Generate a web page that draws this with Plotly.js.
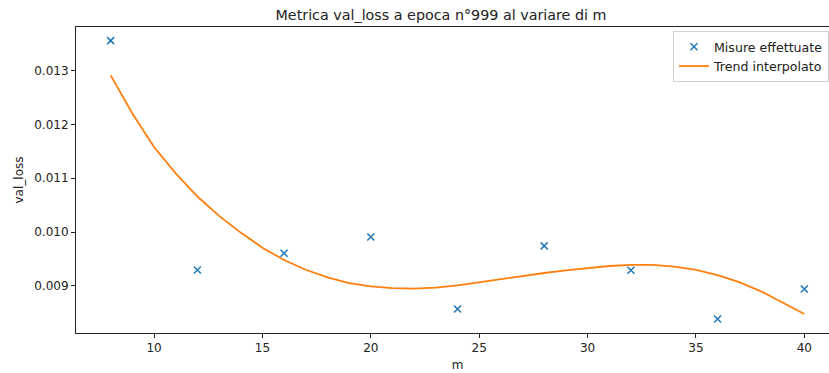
<!DOCTYPE html>
<html>
<head>
<meta charset="utf-8">
<script src="https://cdn.plot.ly/plotly-3.0.1.min.js"></script>
<style>
html,body{margin:0;padding:0;overflow:hidden;background:#fff;}
#chart{width:839px;height:373px;}
</style>
</head>
<body>
<div id="chart"></div>
<script>
// Measured values
const measureM = [8, 12, 16, 20, 24, 28, 32, 36, 40];
const measureLoss = [0.013554, 0.009297, 0.009605, 0.009908, 0.008572, 0.009743, 0.009290, 0.008387, 0.008944];

// Interpolated trend
const trendM = [8, 9, 10, 11, 12, 13, 14, 15, 16, 17, 18, 19, 20, 21, 22, 23, 24,
                25, 26, 27, 28, 29, 30, 31, 32, 33, 34, 35, 36, 37, 38, 39, 40];
const trendLoss = [0.012909, 0.01220, 0.01158, 0.01109, 0.01066, 0.01030, 0.00999, 0.00971,
                   0.00948, 0.00930, 0.00916, 0.00905, 0.00899, 0.00896, 0.00895, 0.00897,
                   0.00901, 0.00907, 0.00913, 0.00919, 0.00924, 0.00929, 0.00933, 0.00937,
                   0.00939, 0.00939, 0.00936, 0.00930, 0.00920, 0.00907, 0.00890, 0.00869, 0.00848];

const xTicks = [10, 15, 20, 25, 30, 35, 40];
const yTicks = [0.009, 0.010, 0.011, 0.012, 0.013];

const font = {family: 'DejaVu Sans', size: 12, color: '#222'};

const traces = [
  {
    x: measureM, y: measureLoss, mode: 'markers', type: 'scatter',
    name: 'Misure effettuate',
    marker: {symbol: 'x-thin-open', size: 7, color: '#1f77b4', line: {color: '#1f77b4', width: 1.5}}
  },
  {
    x: trendM, y: trendLoss, mode: 'lines', type: 'scatter',
    name: 'Trend interpolato',
    line: {color: '#ff7f0e', width: 1.8}
  }
];

const axisCommon = {
  showline: true, linecolor: '#222', linewidth: 1, mirror: true,
  showgrid: false, zeroline: false,
  ticks: 'outside', ticklen: 4, tickwidth: 1, tickcolor: '#222',
  tickfont: font
};

const layout = {
  width: 839, height: 373,
  margin: {l: 76, r: 0, t: 27, b: 40},
  paper_bgcolor: '#fff', plot_bgcolor: '#fff',
  font: font,
  title: {
    text: 'Metrica val_loss a epoca n°999 al variare di m',
    font: {family: 'DejaVu Sans', size: 14.3, color: '#222'},
    xref: 'container', x: 441/839, xanchor: 'center',
    yref: 'container', y: 1 - 15/373, yanchor: 'middle'
  },
  xaxis: Object.assign({}, axisCommon, {
    range: [6.4, 41.6], tickvals: xTicks, ticktext: xTicks.map(String),
    title: {text: 'm', font: font, standoff: 6}
  }),
  yaxis: Object.assign({}, axisCommon, {
    range: [0.008126, 0.013807], tickvals: yTicks, ticktext: yTicks.map(v => v.toFixed(3)),
    title: {text: 'val_loss', font: font, standoff: 8}
  }),
  showlegend: true,
  legend: {
    x: (673 - 76) / 763, xanchor: 'left',
    y: (333 - 31) / 306, yanchor: 'top',
    bgcolor: 'rgba(255,255,255,0.8)', bordercolor: '#d0d0d0', borderwidth: 1,
    font: {family: 'DejaVu Sans', size: 12.6, color: '#222'}
  }
};

Plotly.newPlot('chart', traces, layout, {displayModeBar: false, staticPlot: true});
</script>
</body>
</html>
